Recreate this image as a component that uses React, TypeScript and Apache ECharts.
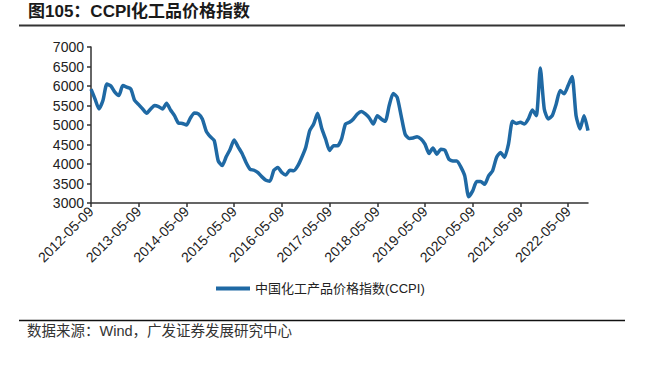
import React, { useEffect, useRef } from "react";
import * as echarts from "echarts";

// Monthly observations starting 2012-05-09
const startYear = 2012;
const startMonth = 5;
const ccpiValues: number[] = [
  5920, 5670, 5412, 5627, 6050, 6000, 5840, 5755, 6010, 5970, 5925, 5627,
  5523, 5410, 5300, 5410, 5500, 5470, 5410, 5560, 5385, 5240, 5050, 5040,
  5000, 5180, 5310, 5283, 5155, 4837, 4700, 4600, 4080, 3960, 4185, 4380,
  4614, 4440, 4270, 4040, 3867, 3840, 3780, 3670, 3584, 3560, 3840, 3910,
  3780, 3720, 3840, 3825, 3950, 4167, 4425, 4854, 5025, 5300, 4923, 4640,
  4345, 4470, 4467, 4640, 5025, 5070, 5155, 5283, 5343, 5283, 5180, 5025,
  5240, 5155, 5095, 5500, 5810, 5712, 5240, 4768, 4657, 4665, 4700, 4640,
  4510, 4270, 4408, 4253, 4380, 4356, 4124, 4080, 4080, 3927, 3695, 3160,
  3310, 3550, 3550, 3480, 3695, 3825, 4167, 4296, 4167, 4510, 5095, 5040,
  5070, 5025, 5155, 5385, 5240, 6460, 5412, 5155, 5240, 5540, 5884, 5800,
  6013, 6245, 5240, 4900, 5240, 4854,
];
const yTicks = { min: 3000, max: 7000, interval: 500 };
const titleText = "图105：CCPI化工品价格指数";
const seriesName = "中国化工产品价格指数(CCPI)";
const sourceText = "数据来源：Wind，广发证券发展研究中心";

function buildCategories(n: number): string[] {
  const out: string[] = [];
  for (let i = 0; i < n; i++) {
    const m0 = startMonth - 1 + i;
    const y = startYear + Math.floor(m0 / 12);
    const m = (m0 % 12) + 1;
    out.push(`${y}-${m < 10 ? "0" + m : m}-09`);
  }
  return out;
}
const categories = buildCategories(ccpiValues.length);

const latin = "'Liberation Sans', Arial, 'Noto Sans CJK SC', sans-serif";
const cjk = "'Liberation Sans', 'Noto Sans CJK SC', sans-serif";

export default function App() {
  const ref = useRef<HTMLDivElement>(null);
  useEffect(() => {
    if (!ref.current) return;
    const chart = echarts.init(ref.current, undefined, { renderer: "svg" });
    chart.setOption({
      animation: false,
      backgroundColor: "#ffffff",
      grid: { left: 91, right: 72, top: 47, bottom: 162, containLabel: false },
      xAxis: {
        type: "category",
        data: categories,
        boundaryGap: false,
        axisLine: { show: true, lineStyle: { color: "#333333", width: 1.5 } },
        axisTick: { show: true, interval: 11, length: 4, lineStyle: { color: "#333333", width: 1.5 } },
        axisLabel: {
          interval: 11,
          rotate: 45,
          fontSize: 14,
          color: "#222222",
          fontFamily: latin,
          margin: 6,
        },
        splitLine: { show: false },
      },
      yAxis: {
        type: "value",
        min: yTicks.min,
        max: yTicks.max,
        interval: yTicks.interval,
        axisLine: { show: true, lineStyle: { color: "#333333", width: 1.5 } },
        axisTick: { show: true, length: 4, lineStyle: { color: "#333333", width: 1.5 } },
        axisLabel: {
          fontSize: 14,
          color: "#222222",
          fontFamily: latin,
          margin: 7,
          formatter: (v: number) => String(v),
        },
        splitLine: { show: false },
      },
      legend: {
        data: [{ name: seriesName, icon: "rect" }],
        left: 211,
        top: 277,
        itemWidth: 34,
        itemHeight: 4,
        textStyle: { fontSize: 13, color: "#222222", fontFamily: cjk },
      },
      series: [
        {
          name: seriesName,
          type: "line",
          data: ccpiValues,
          showSymbol: false,
          smooth: 0.2,
          lineStyle: { color: "#1F69A4", width: 3.5 },
          itemStyle: { color: "#1F69A4" },
        },
      ],
      graphic: [
        {
          type: "text",
          left: 28,
          top: 3,
          style: {
            text: titleText,
            fontSize: 17,
            fontWeight: "bold",
            fontFamily: cjk,
            fill: "#1a1a1a",
          },
        },
        {
          type: "line",
          shape: { x1: 19, y1: 25.5, x2: 625, y2: 25.5 },
          style: { stroke: "#333333", lineWidth: 2 },
        },
        {
          type: "line",
          shape: { x1: 19, y1: 320.5, x2: 625, y2: 320.5 },
          style: { stroke: "#111111", lineWidth: 1.5 },
        },
        {
          type: "text",
          left: 27,
          top: 324,
          style: {
            text: sourceText,
            fontSize: 14.5,
            fontFamily: cjk,
            fill: "#333333",
          },
        },
      ],
    });
    return () => chart.dispose();
  }, []);
  return (
    <div
      ref={ref}
      style={{ position: "fixed", left: 0, top: 0, width: 660, height: 365, background: "#fff" }}
    />
  );
}
